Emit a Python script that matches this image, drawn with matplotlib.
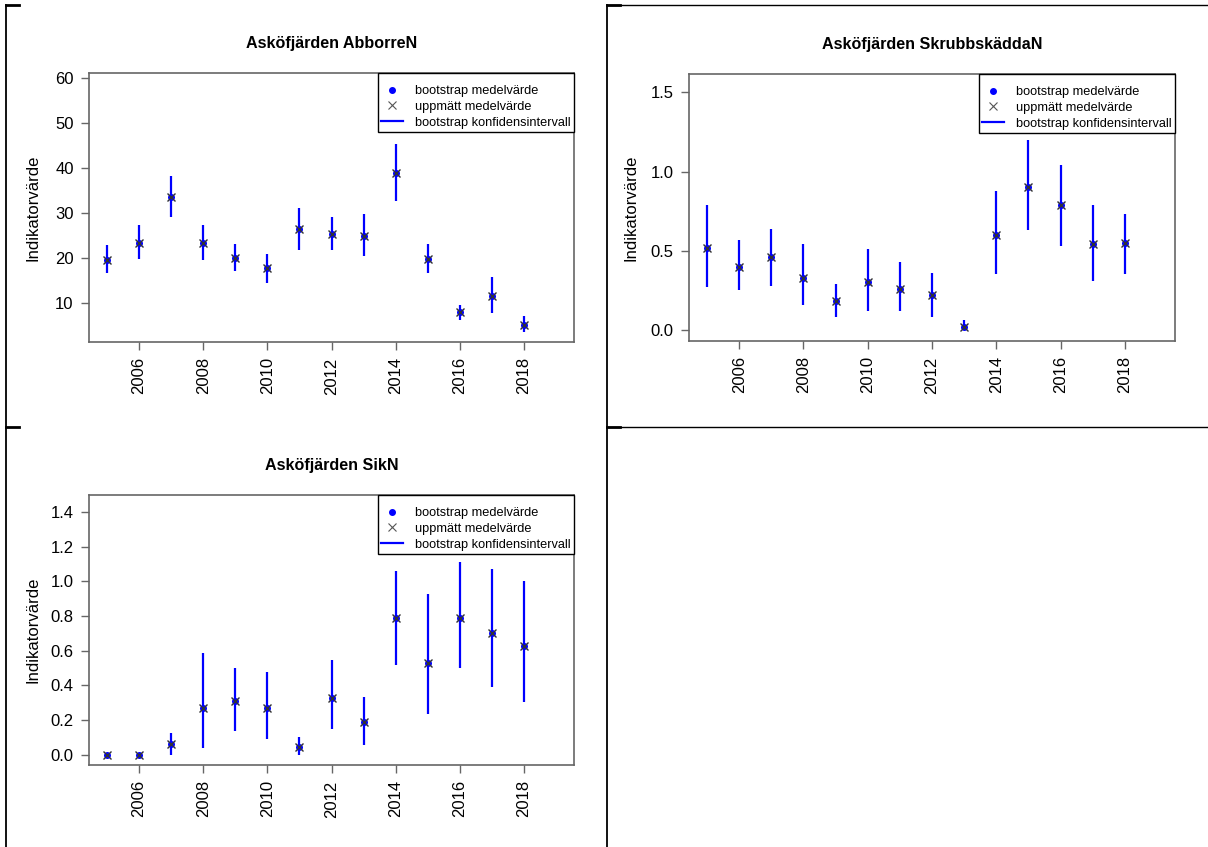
import matplotlib
matplotlib.use("Agg")
import matplotlib.pyplot as plt
from matplotlib.lines import Line2D

plt.rcParams['font.family'] = ['Liberation Sans', 'DejaVu Sans']

# data
years = list(range(2005, 2019))

abborre_boot = [19.6, 23.4, 33.5, 23.4, 20.0, 17.7, 26.4, 25.3, 24.9, 38.9, 19.7, 7.9, 11.6, 5.1]
abborre_obs = [19.6, 23.4, 33.5, 23.4, 20.0, 17.7, 26.4, 25.3, 24.9, 38.9, 19.7, 7.9, 11.6, 5.1]
abborre_lo = [16.6, 19.7, 29.1, 19.5, 17.0, 14.4, 21.7, 21.7, 20.4, 32.8, 16.6, 6.2, 7.7, 3.6]
abborre_hi = [22.9, 27.3, 38.2, 27.3, 23.2, 20.9, 31.1, 29.1, 29.7, 45.5, 23.1, 9.6, 15.8, 7.2]

skrubb_boot = [0.52, 0.40, 0.46, 0.33, 0.18, 0.30, 0.26, 0.22, 0.02, 0.60, 0.90, 0.79, 0.54, 0.55]
skrubb_obs = [0.52, 0.40, 0.46, 0.33, 0.18, 0.30, 0.26, 0.22, 0.02, 0.60, 0.90, 0.79, 0.54, 0.55]
skrubb_lo = [0.27, 0.25, 0.28, 0.16, 0.08, 0.12, 0.12, 0.08, 0.00, 0.35, 0.63, 0.53, 0.31, 0.35]
skrubb_hi = [0.79, 0.57, 0.64, 0.54, 0.29, 0.51, 0.43, 0.36, 0.06, 0.88, 1.20, 1.04, 0.79, 0.73]

sik_boot = [0.0, 0.0, 0.064, 0.27, 0.31, 0.27, 0.043, 0.33, 0.19, 0.79, 0.53, 0.79, 0.70, 0.63]
sik_obs = [0.0, 0.0, 0.064, 0.27, 0.31, 0.27, 0.043, 0.33, 0.19, 0.79, 0.53, 0.79, 0.70, 0.63]
sik_lo = [0.0, 0.0, 0.0, 0.04, 0.14, 0.09, 0.0, 0.15, 0.06, 0.52, 0.235, 0.50, 0.39, 0.305]
sik_hi = [0.0, 0.0, 0.126, 0.586, 0.50, 0.48, 0.105, 0.546, 0.336, 1.062, 0.924, 1.109, 1.068, 1.0]

titles = ["Asköfjärden AbborreN", "Asköfjärden SkrubbskäddaN", "Asköfjärden SikN"]
legend_labels = ["bootstrap medelvärde", "uppmätt medelvärde", "bootstrap konfidensintervall"]
xticks = [2006, 2008, 2010, 2012, 2014, 2016, 2018]

W, H = 1208, 847
fig = plt.figure(figsize=(W / 100, H / 100), dpi=100)


def axes_px(left, right, top, bottom):
    return fig.add_axes([left / W, 1 - bottom / H, (right - left) / W, (bottom - top) / H])


def panel(ax, title, boot, obs, lo, hi, ylim, yticks, ylabels, ylab_x):
    ax.vlines(years, lo, hi, color='#0000ff', lw=1.6, zorder=2)
    ax.plot(years, boot, ls='none', marker='o', ms=4, color='#0000ff', zorder=3)
    ax.plot(years, obs, ls='none', marker='x', ms=5.5, mew=1.0, color='#333333', zorder=4)

    ax.set_xlim(2004.44, 2019.56)
    ax.set_ylim(*ylim)
    ax.set_xticks(xticks)
    ax.set_xticklabels([str(x) for x in xticks], rotation=90, fontsize=12)
    ax.set_yticks(yticks)
    ax.set_yticklabels(ylabels, fontsize=12)
    ax.tick_params(length=6, width=1, color='#666666', pad=5)
    for s in ax.spines.values():
        s.set_color('#666666')
        s.set_linewidth(1.2)

    ax.set_title(title, fontsize=11.6, fontweight='bold', pad=18)
    ax.set_ylabel("Indikatorvärde", fontsize=12)
    ax.yaxis.set_label_coords(ylab_x, 0.5)

    handles = [Line2D([], [], ls='none', marker='o', ms=4, color='#0000ff'),
               Line2D([], [], ls='none', marker='x', ms=5.5, mew=0.8, color='#555555'),
               Line2D([], [], color='#0000ff', lw=1.6)]
    # blank title only to push the rows down a bit inside the box
    leg = ax.legend(handles, legend_labels, loc='upper right', fontsize=9.2,
                    title=' ', title_fontsize=4,
                    borderaxespad=0, fancybox=False, framealpha=1, edgecolor='black',
                    handlelength=1.7, handletextpad=0.95, borderpad=0.25, labelspacing=0.3)
    leg.get_frame().set_linewidth(1.0)


ax1 = axes_px(89, 574, 73, 342)
panel(ax1, titles[0], abborre_boot, abborre_obs, abborre_lo, abborre_hi,
      (1.3, 61.2), [10, 20, 30, 40, 50, 60], ["10", "20", "30", "40", "50", "60"], -0.10)

ax2 = axes_px(689, 1175, 74, 341)
panel(ax2, titles[1], skrubb_boot, skrubb_obs, skrubb_lo, skrubb_hi,
      (-0.07, 1.616), [0.0, 0.5, 1.0, 1.5], ["0.0", "0.5", "1.0", "1.5"], -0.104)

ax3 = axes_px(89, 574, 495, 765)
sik_ticks = [0.0, 0.2, 0.4, 0.6, 0.8, 1.0, 1.2, 1.4]
panel(ax3, titles[2], sik_boot, sik_obs, sik_lo, sik_hi,
      (-0.058, 1.497), sik_ticks, ["%.1f" % t for t in sik_ticks], -0.10)

# table borders around the panels
frame = fig.add_axes([0, 0, 1, 1], zorder=-1)
frame.set_xlim(0, W)
frame.set_ylim(H, 0)
frame.axis('off')
frame.plot([6, 6], [5, H], color='black', lw=1.3)
frame.plot([607, 607], [5, H], color='black', lw=1.3)
frame.plot([607, W], [5, 5], color='black', lw=1.0)
frame.plot([607, W], [427, 427], color='black', lw=1.0)
for x0 in (6, 607):
    frame.plot([x0, x0 + 13], [5, 5], color='black', lw=2.0)
    frame.plot([x0, x0 + 13], [427, 427], color='black', lw=2.0)

plt.savefig('out.png', dpi=100)
plt.close()
